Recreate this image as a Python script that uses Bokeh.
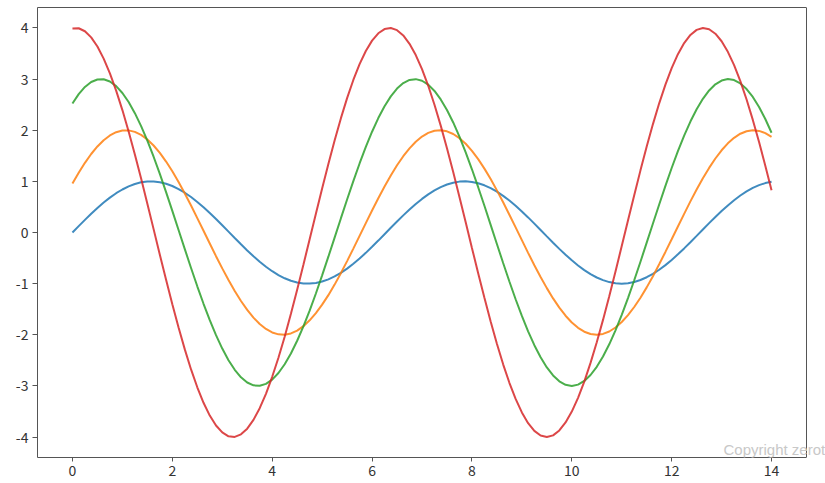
from bokeh.plotting import figure
from bokeh.models import Range1d, FixedTicker, Label, LinearAxis, Span
from bokeh.embed import file_html
from bokeh.resources import INLINE

# sample positions: 0 .. 14 in steps of 0.125
x = [j / 8 for j in range(113)]

blue = [0.000, 0.125, 0.247, 0.366, 0.479, 0.585, 0.682, 0.768, 0.841, 0.902,
        0.949, 0.981, 0.997, 0.999, 0.984, 0.954, 0.909, 0.850, 0.778, 0.694,
        0.598, 0.494, 0.382, 0.263, 0.141, 0.017, -0.108, -0.231, -0.351, -0.465,
        -0.572, -0.669, -0.757, -0.832, -0.895, -0.944, -0.978, -0.996, -0.999, -0.987,
        -0.959, -0.916, -0.859, -0.788, -0.706, -0.612, -0.510, -0.398, -0.279, -0.158,
        -0.033, 0.092, 0.215, 0.335, 0.450, 0.558, 0.657, 0.746, 0.823, 0.887,
        0.938, 0.974, 0.995, 1.000, 0.989, 0.964, 0.923, 0.867, 0.798, 0.717,
        0.625, 0.523, 0.412, 0.295, 0.174, 0.050, -0.075, -0.199, -0.320, -0.435,
        -0.544, -0.644, -0.735, -0.814, -0.880, -0.932, -0.970, -0.993, -1.000, -0.992,
        -0.968, -0.929, -0.875, -0.808, -0.729, -0.638, -0.537, -0.427, -0.311, -0.190,
        -0.066, 0.059, 0.183, 0.304, 0.420, 0.530, 0.632, 0.723, 0.804, 0.872,
        0.926, 0.966, 0.991]

orange = [0.959, 1.170, 1.363, 1.535, 1.683, 1.805, 1.898, 1.962, 1.995, 1.997,
          1.968, 1.908, 1.819, 1.701, 1.556, 1.387, 1.197, 0.988, 0.763, 0.527,
          0.282, 0.033, -0.216, -0.463, -0.702, -0.930, -1.143, -1.339, -1.514, -1.665,
          -1.790, -1.887, -1.955, -1.992, -1.999, -1.974, -1.918, -1.832, -1.718, -1.577,
          -1.411, -1.225, -1.019, -0.795, -0.559, -0.315, -0.066, 0.183, 0.430, 0.670,
          0.900, 1.116, 1.314, 1.492, 1.646, 1.775, 1.876, 1.948, 1.989, 2.000,
          1.979, 1.927, 1.845, 1.735, 1.597, 1.434, 1.249, 1.045, 0.824, 0.591,
          0.348, 0.100, -0.150, -0.398, -0.639, -0.870, -1.088, -1.289, -1.469, -1.627,
          -1.759, -1.864, -1.940, -1.985, -2.000, -1.983, -1.936, -1.858, -1.751, -1.617,
          -1.457, -1.275, -1.073, -0.854, -0.622, -0.380, -0.133, 0.117, 0.365, 0.608,
          0.840, 1.060, 1.263, 1.447, 1.608, 1.743, 1.852, 1.932, 1.981, 2.000,
          1.987, 1.944, 1.870]

green = [2.524, 2.707, 2.847, 2.943, 2.992, 2.996, 2.952, 2.862, 2.728, 2.551,
         2.334, 2.081, 1.795, 1.482, 1.145, 0.790, 0.423, 0.050, -0.325, -0.694,
         -1.052, -1.394, -1.715, -2.008, -2.270, -2.497, -2.685, -2.831, -2.933, -2.989,
         -2.998, -2.960, -2.877, -2.748, -2.577, -2.365, -2.117, -1.837, -1.529, -1.193,
         -0.838, -0.473, -0.100, 0.275, 0.645, 1.006, 1.350, 1.674, 1.971, 2.238,
         2.469, 2.662, 2.814, 2.922, 2.984, 2.999, 2.968, 2.891, 2.768, 2.602,
         2.395, 2.152, 1.874, 1.568, 1.236, 0.886, 0.522, 0.149, -0.225, -0.597,
         -0.959, -1.305, -1.632, -1.933, -2.204, -2.441, -2.639, -2.796, -2.910, -2.978,
         -3.000, -2.975, -2.903, -2.787, -2.626, -2.425, -2.186, -1.913, -1.610, -1.282,
         -0.933, -0.571, -0.199, 0.176, 0.548, 0.911, 1.261, 1.590, 1.895, 2.170,
         2.411, 2.615, 2.778, 2.898, 2.972, 3.000, 2.981, 2.916, 2.805, 2.650,
         2.454, 2.220, 1.951]

red = [3.990, 3.994, 3.936, 3.816, 3.637, 3.401, 3.112, 2.775, 2.394, 1.976,
       1.527, 1.054, 0.564, 0.066, -0.433, -0.925, -1.403, -1.859, -2.286, -2.678,
       -3.027, -3.330, -3.580, -3.774, -3.910, -3.985, -3.997, -3.947, -3.836, -3.664,
       -3.436, -3.154, -2.822, -2.450, -2.039, -1.591, -1.118, -0.630, -0.133, 0.367,
       0.860, 1.341, 1.800, 2.231, 2.628, 2.983, 3.292, 3.550, 3.752, 3.896,
       3.978, 3.999, 3.957, 3.854, 3.690, 3.469, 3.194, 2.869, 2.499, 2.090,
       1.648, 1.181, 0.696, 0.199, -0.301, -0.796, -1.278, -1.741, -2.176, -2.578,
       -2.939, -3.254, -3.519, -3.728, -3.880, -3.971, -4.000, -3.967, -3.871, -3.715,
       -3.502, -3.233, -2.915, -2.550, -2.146, -1.709, -1.245, -0.761, -0.265, 0.234,
       0.730, 1.215, 1.681, 2.120, 2.526, 2.893, 3.215, 3.487, 3.704, 3.863,
       3.962, 4.000, 3.975, 3.887, 3.740, 3.533, 3.272, 2.960, 2.601, 2.202,
       1.768, 1.307, 0.826]

series = [blue, orange, green, red]
colors = ["#1f77b4", "#ff7f0e", "#2ca02c", "#d62728"]

x_ticks = [0, 2, 4, 6, 8, 10, 12, 14]
y_ticks = [-4, -3, -2, -1, 0, 1, 2, 3, 4]
y_tick_labels = {v: str(v) for v in y_ticks}

X_LO, X_HI = -0.7, 14.7      # axes box limits
Y_LO, Y_HI = -4.4, 4.4
SPINE = "#555555"
FONT = "Noto Sans CJK KR"

W, H = 825, 483
ML, MT, MB = 37, 7, 26
# frame reaches the right edge so the watermark is not clipped; box closes at X_HI
x_end = X_LO + (X_HI - X_LO) * (W - ML) / (806 - ML)

p = figure(width=W, height=H, output_backend="svg", toolbar_location=None,
           x_range=Range1d(X_LO, x_end), y_range=Range1d(Y_LO, Y_HI),
           x_axis_location="below", y_axis_location="left",
           min_border_left=ML, min_border_right=0, min_border_top=MT, min_border_bottom=MB)

for ys, c in zip(series, colors):
    p.line(x, ys, line_color=c, line_width=2, line_alpha=0.85)

p.xgrid.visible = False
p.ygrid.visible = False
p.outline_line_color = None
p.background_fill_color = "white"
p.border_fill_color = "white"

for ax in (p.xaxis[0], p.yaxis[0]):
    ax.axis_line_color = SPINE
    ax.axis_line_width = 1
    ax.major_tick_in = 0
    ax.major_tick_out = 5
    ax.minor_tick_line_color = None
    ax.major_tick_line_color = SPINE
    ax.major_label_text_font = FONT
    ax.major_label_text_font_size = "14px"
    ax.major_label_text_color = "#333333"

p.xaxis[0].bounds = (X_LO, X_HI)
p.xaxis[0].major_tick_out = 4
p.xaxis[0].major_label_standoff = 3
p.yaxis[0].major_label_standoff = 4
p.xaxis[0].ticker = FixedTicker(ticks=x_ticks)
p.yaxis[0].ticker = FixedTicker(ticks=y_ticks)
p.yaxis[0].major_label_overrides = y_tick_labels

top = LinearAxis(bounds=(X_LO, X_HI), ticker=FixedTicker(ticks=[]),
                 axis_line_color=SPINE, axis_line_width=1,
                 major_tick_in=0, major_tick_out=0, minor_tick_in=0, minor_tick_out=0,
                 major_label_standoff=0, major_label_text_font_size="0px")
p.add_layout(top, "above")

right_spine = Span(location=X_HI, dimension="height", line_color=SPINE, line_width=1)
p.add_layout(right_spine)

wm = Label(x=723, y=449, x_units="canvas", y_units="canvas", text="Copyright zerot",
           text_font="Liberation Sans", text_font_size="15px", text_color="#c8c8c8",
           text_baseline="alphabetic")
p.add_layout(wm)

open("out.html", "w").write(file_html(p, INLINE))
